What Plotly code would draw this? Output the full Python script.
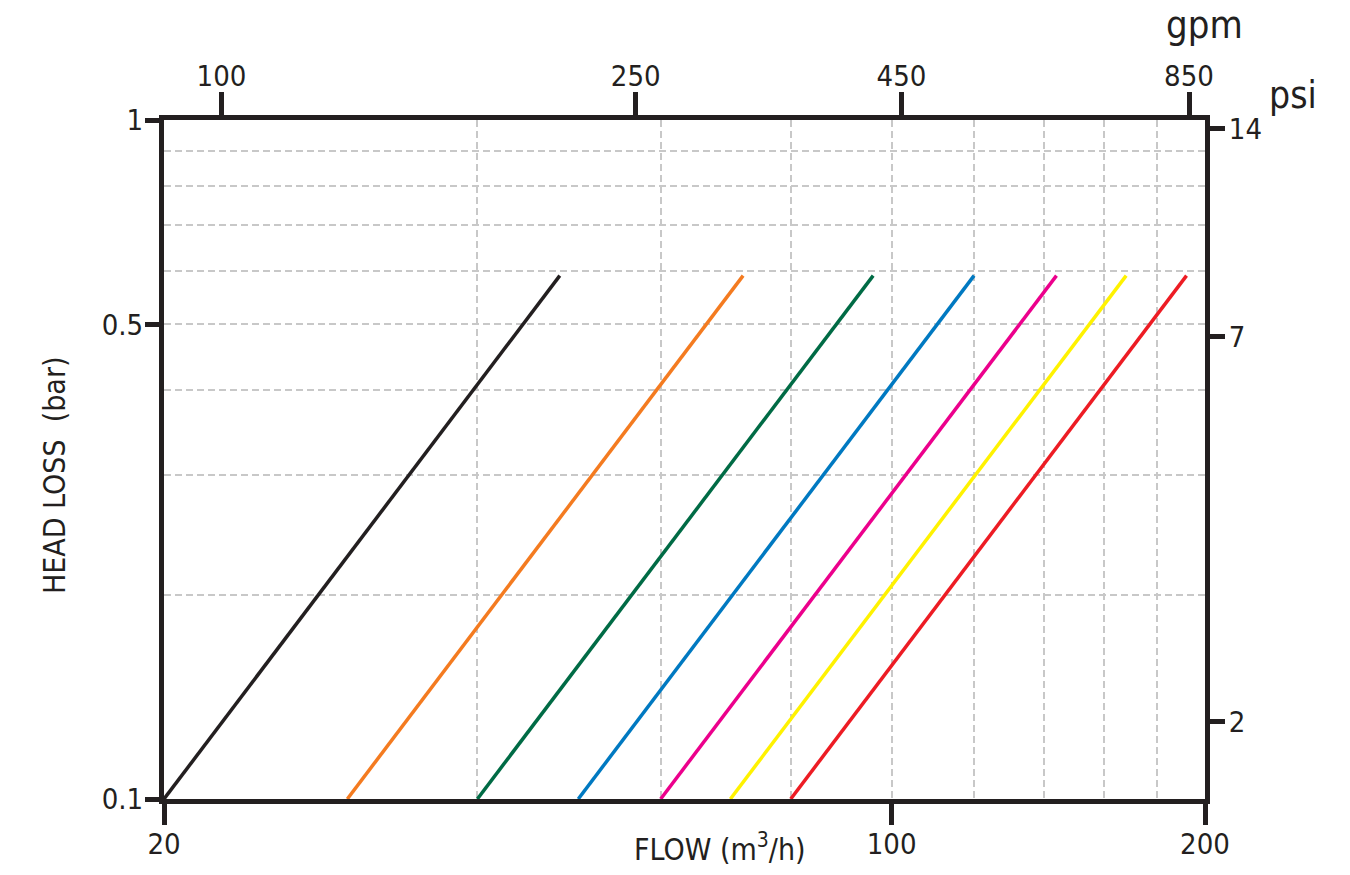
import math
import plotly.graph_objects as go

# ---------------- data ----------------
SERIES_NAMES = ["S1", "S2", "S3", "S4", "S5", "S6", "S7"]
SERIES_COLORS = ["#231f20", "#f47b20", "#006b45", "#0079c1", "#ec008c", "#fff200", "#ed1c24"]
FLOW_START = [20, 30, 40, 50, 60, 70, 80]        # m3/h at 0.1 bar
FLOW_END = [48, 72, 96, 120, 144, 168, 192]      # m3/h at top of curve
HEAD_START = 0.1                                 # bar
HEAD_END = 0.59                                  # bar

X_TICKS = [20, 100, 200]
X_TICK_TEXT = ["20", "100", "200"]
X_GRID = [40, 60, 80, 100, 120, 140, 160, 180]

Y_TICKS = [0.1, 0.5, 1]
Y_TICK_TEXT = ["0.1", "0.5", "1"]
Y_GRID = [0.2, 0.3, 0.4, 0.5, 0.6, 0.7, 0.8, 0.9]

GPM_TICKS = [100, 250, 450, 850]
GPM_PER_M3H = 4.403

PSI_TICK_TEXT = ["14", "7", "2"]
PSI_TICK_POS_BAR = [0.97, 0.48, 0.13]

# ---------------- styling ----------------
INK = "#231f20"
FONT = "Liberation Sans Narrow, Arial Narrow, DejaVu Sans Condensed, sans-serif"
FS = 29
GRID = "#c8c8c8"

fig = go.Figure()
for name, col, x0, x1 in zip(SERIES_NAMES, SERIES_COLORS, FLOW_START, FLOW_END):
    fig.add_trace(go.Scatter(x=[x0, x1], y=[HEAD_START, HEAD_END], mode="lines",
                             name=name, line=dict(color=col, width=3.5),
                             showlegend=False, hoverinfo="skip"))

# invisible trace to anchor secondary axes
fig.add_trace(go.Scatter(x=[X_TICKS[0]], y=[Y_TICKS[0]], xaxis="x2", yaxis="y2",
                         mode="markers", marker=dict(opacity=0), showlegend=False,
                         hoverinfo="skip"))

xr = [math.log10(X_TICKS[0]), math.log10(X_TICKS[-1])]
yr = [math.log10(Y_TICKS[0]), math.log10(Y_TICKS[-1])]

common = dict(showline=True, linewidth=5, linecolor=INK, ticks="outside",
              tickwidth=5, tickcolor=INK, tickfont=dict(family=FONT, size=FS, color=INK),
              automargin=False, zeroline=False)

fig.update_layout(
    width=1350, height=875,
    margin=dict(l=164, r=145, t=120, b=76),
    paper_bgcolor="white", plot_bgcolor="white",
    xaxis=dict(type="log", range=xr, tickmode="array", tickvals=X_TICKS,
               ticktext=X_TICK_TEXT, ticklen=21, showgrid=False, ticklabelstandoff=-6,
               minor=dict(tickmode="array", tickvals=X_GRID, showgrid=True,
                          gridcolor=GRID, gridwidth=1.5, griddash="7px,4px", ticks=""),
               **common),
    xaxis2=dict(type="log", range=xr, overlaying="x", side="top", tickmode="array",
                tickvals=[g / GPM_PER_M3H for g in GPM_TICKS],
                ticktext=[str(g) for g in GPM_TICKS], ticklen=23, showgrid=False,
                ticklabelstandoff=-6, **common),
    yaxis=dict(type="log", range=yr, tickmode="array", tickvals=Y_TICKS,
               ticktext=Y_TICK_TEXT, ticklen=14, showgrid=False, ticklabelstandoff=-4,
               minor=dict(tickmode="array", tickvals=Y_GRID, showgrid=True,
                          gridcolor=GRID, gridwidth=1.5, griddash="7px,4px", ticks=""),
               **common),
    yaxis2=dict(type="log", range=yr, overlaying="y", side="right", tickmode="array",
                tickvals=PSI_TICK_POS_BAR, ticktext=PSI_TICK_TEXT, ticklen=15,
                showgrid=False, ticklabelstandoff=-2, **common),
    showlegend=False,
)

ann_font = dict(family=FONT, size=30, color=INK)
fig.add_annotation(text="HEAD LOSS\u00a0 (bar)", xref="paper", yref="paper",
                   x=-0.1057, y=0.477, textangle=-90, showarrow=False,
                   xanchor="center", yanchor="middle", font=ann_font)
fig.add_annotation(text="FLOW (m<sup>3</sup>/h)", xref="paper", yref="paper",
                   x=0.534, y=-0.072, showarrow=False,
                   xanchor="center", yanchor="middle", font=ann_font)
fig.add_annotation(text="gpm", xref="paper", yref="paper",
                   x=0.9995, y=1.140, showarrow=False,
                   xanchor="center", yanchor="middle",
                   font=dict(family=FONT, size=38, color=INK))
fig.add_annotation(text="psi", xref="paper", yref="paper",
                   x=1.0846, y=1.036, showarrow=False,
                   xanchor="center", yanchor="middle",
                   font=dict(family=FONT, size=37, color=INK))

fig.write_html("out.html")
